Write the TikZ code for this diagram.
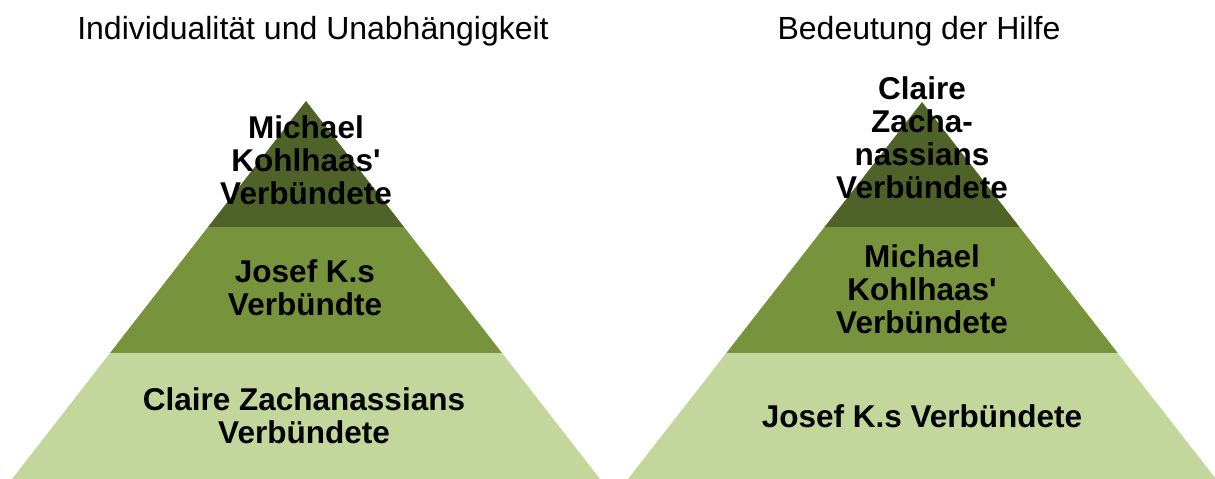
\documentclass[tikz,border=0pt]{standalone}
\usepackage{fontspec}
\setmainfont{Liberation Sans}
\definecolor{tierA}{HTML}{4F6228}
\definecolor{tierB}{HTML}{77933C}
\definecolor{tierC}{HTML}{C3D69B}
\begin{document}
\begin{tikzpicture}[x=1pt,y=-1pt,
  title/.style={font=\fontsize{32}{36}\selectfont, anchor=base, inner sep=0pt},
  lbl/.style={font=\fontsize{31.5}{33}\selectfont\bfseries, align=center, inner sep=0pt, anchor=center}]
\useasboundingbox (0,0) rectangle (1215,479);
% left pyramid
\fill[tierA] (306,101) -- (404,227) -- (208,227) -- cycle;
\fill[tierB] (208,227) -- (404,227) -- (502,353) -- (110,353) -- cycle;
\fill[tierC] (110,353) -- (502,353) -- (600,479) -- (12,479) -- cycle;
% right pyramid
\fill[tierA] (922,102) -- (1019.5,227) -- (824.5,227) -- cycle;
\fill[tierB] (824.5,227) -- (1019.5,227) -- (1117.7,353) -- (726.3,353) -- cycle;
\fill[tierC] (726.3,353) -- (1117.7,353) -- (1216,479) -- (628,479) -- cycle;
% titles
\node[title] (t1) at (313,39) {Individualität und Unabhängigkeit};
\node[title] (t2) at (919,39) {Bedeutung der Hilfe};
% labels left
\node[lbl] (l1) at (306,160) {Michael\\Kohlhaas\textquotesingle\\Verbündete};
\node[lbl] (l2) at (305,288) {Josef K.s\\Verbündte};
\node[lbl] (l3) at (304,416) {Claire Zachanassians\\Verbündete};
% labels right
\node[lbl] (r1) at (922,138) {Claire\\Zacha-\\nassians\\Verbündete};
\node[lbl] (r2) at (922,289) {Michael\\Kohlhaas\textquotesingle\\Verbündete};
\node[lbl] (r3) at (922,416) {Josef K.s Verbündete};
\end{tikzpicture}
\end{document}
